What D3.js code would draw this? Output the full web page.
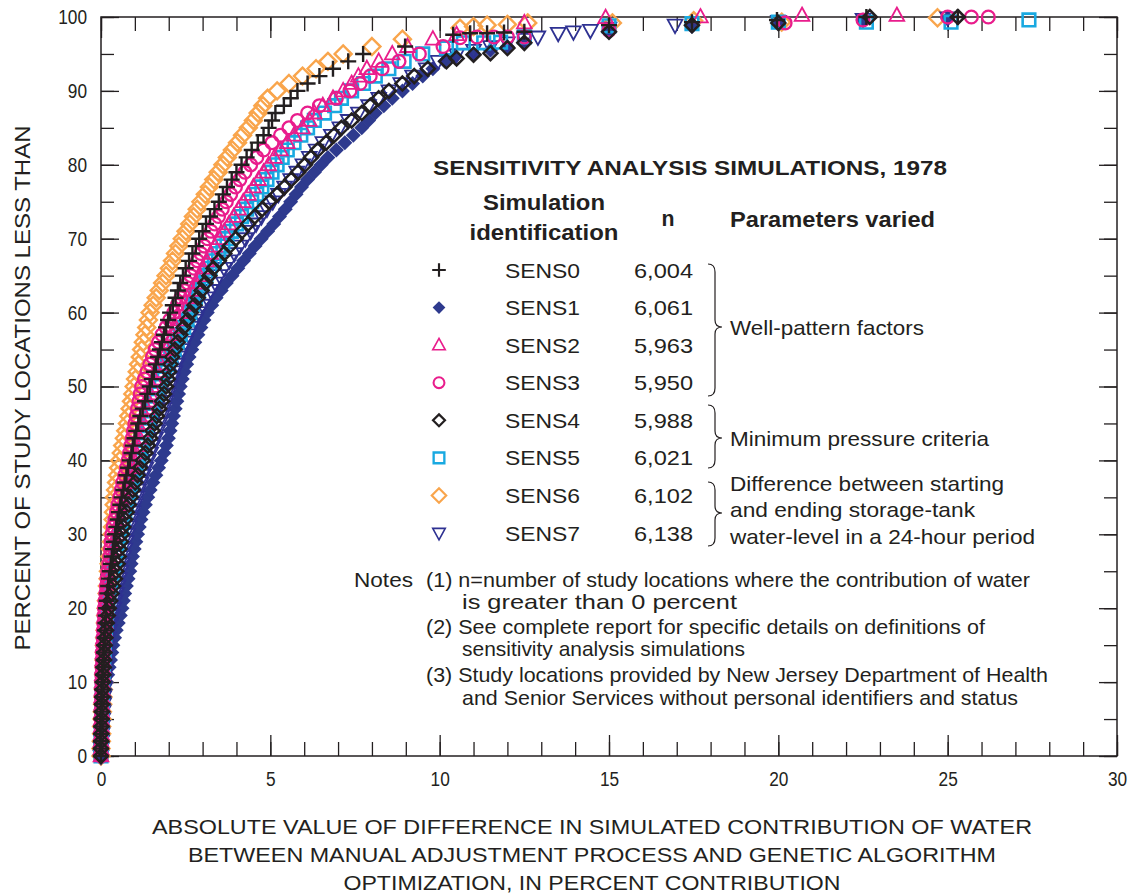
<!DOCTYPE html>
<html><head><meta charset="utf-8">
<script src="https://cdn.jsdelivr.net/npm/d3@7"></script>
<style>
body{margin:0;background:#fff}
svg{display:block}
text{font-family:"Liberation Sans",Arial,Helvetica,sans-serif;fill:#231f20}
</style>
</head><body><svg id="c" width="1131" height="895"></svg>
<script>
// ---------- DATA ----------
// Dense part: x value (absolute difference, %) at each cumulative percent 0,1,2,...
const sens0X = [0,0,0,0.01,0.01,0.02,0.02,0.03,0.04,0.04,
0.05,0.06,0.07,0.08,0.09,0.1,0.11,0.12,0.13,0.14,
0.15,0.17,0.19,0.21,0.24,0.26,0.29,0.32,0.35,0.38,
0.42,0.45,0.49,0.53,0.57,0.61,0.66,0.7,0.75,0.8,
0.85,0.9,0.94,0.99,1.04,1.1,1.16,1.23,1.3,1.37,
1.44,1.5,1.56,1.62,1.68,1.74,1.8,1.86,1.92,1.98,
2.04,2.12,2.2,2.27,2.34,2.42,2.5,2.6,2.7,2.8,
2.9,3.0,3.1,3.22,3.35,3.48,3.6,3.72,3.86,4.0,
4.15,4.3,4.45,4.63,4.8,4.95,5.05,5.15,5.4,5.6,
5.8,6.1,6.45,6.85,7.3,7.74,8.98];
const sens1X = [0,0.01,0.02,0.03,0.04,0.05,0.07,0.09,0.11,0.13,
0.16,0.2,0.24,0.28,0.32,0.35,0.4,0.45,0.51,0.57,
0.62,0.66,0.7,0.75,0.8,0.85,0.89,0.93,0.98,1.03,
1.08,1.13,1.18,1.24,1.31,1.38,1.45,1.53,1.62,1.7,
1.78,1.86,1.93,1.99,2.04,2.09,2.14,2.19,2.24,2.29,
2.34,2.4,2.46,2.53,2.6,2.68,2.77,2.86,2.95,3.04,
3.14,3.27,3.4,3.55,3.7,3.87,4.04,4.21,4.38,4.55,
4.73,4.92,5.1,5.27,5.44,5.6,5.76,5.92,6.1,6.3,
6.5,6.7,6.95,7.2,7.45,7.7,7.9,8.1,8.35,8.6,
8.9,9.2,9.5,9.8,10.15];
const sens2X = [0,0,0,0.01,0.01,0.01,0.02,0.02,0.02,0.03,
0.03,0.04,0.05,0.05,0.06,0.07,0.08,0.1,0.12,0.13,
0.15,0.18,0.21,0.24,0.27,0.3,0.33,0.37,0.41,0.44,
0.48,0.52,0.57,0.62,0.67,0.72,0.77,0.82,0.87,0.93,
0.98,1.03,1.08,1.14,1.19,1.25,1.3,1.35,1.4,1.45,
1.5,1.58,1.67,1.76,1.85,1.94,2.03,2.12,2.2,2.27,
2.34,2.42,2.54,2.67,2.8,2.91,3.01,3.12,3.24,3.36,
3.5,3.64,3.78,3.92,4.06,4.2,4.35,4.5,4.65,4.8,
4.95,5.12,5.3,5.5,5.7,5.95,6.15,6.3,6.55,6.85,
7.15,7.4,7.6,7.85,8.2,8.6,9.05,9.8];
const sens3X = [0,0,0,0,0,0,0.01,0.01,0.01,0.02,
0.02,0.02,0.03,0.04,0.04,0.05,0.06,0.07,0.08,0.09,
0.1,0.12,0.14,0.16,0.18,0.2,0.23,0.26,0.28,0.3,
0.32,0.36,0.41,0.46,0.5,0.55,0.6,0.64,0.7,0.75,
0.8,0.84,0.88,0.92,0.96,1.0,1.04,1.08,1.12,1.16,
1.2,1.28,1.36,1.44,1.52,1.6,1.7,1.8,1.92,2.03,
2.15,2.25,2.36,2.46,2.56,2.65,2.75,2.85,2.95,3.05,
3.15,3.25,3.36,3.47,3.58,3.7,3.83,3.97,4.1,4.25,
4.42,4.6,4.8,5.05,5.3,5.55,5.8,6.1,6.45,6.95,
7.35,7.65,7.95,8.3,8.8,9.4,10.1];
const sens4X = [0,0,0.01,0.01,0.02,0.02,0.03,0.03,0.04,0.05,
0.06,0.07,0.08,0.09,0.1,0.11,0.13,0.15,0.17,0.2,
0.23,0.27,0.31,0.36,0.41,0.45,0.49,0.52,0.55,0.59,
0.62,0.66,0.71,0.76,0.82,0.88,0.94,1.01,1.08,1.15,
1.23,1.31,1.38,1.45,1.52,1.58,1.65,1.72,1.8,1.86,
1.92,1.97,2.01,2.05,2.1,2.18,2.26,2.34,2.44,2.55,
2.65,2.76,2.86,2.97,3.08,3.2,3.32,3.48,3.64,3.8,
3.98,4.16,4.34,4.54,4.76,4.97,5.2,5.42,5.62,5.82,
6.02,6.2,6.4,6.65,6.88,7.1,7.4,7.7,7.95,8.2,
8.5,8.9,9.25,9.65,10.2];
const sens5X = [0,0,0.01,0.01,0.02,0.02,0.03,0.03,0.04,0.04,
0.05,0.06,0.07,0.08,0.09,0.1,0.11,0.13,0.15,0.16,
0.18,0.21,0.24,0.28,0.31,0.35,0.39,0.43,0.47,0.51,
0.55,0.6,0.65,0.7,0.75,0.8,0.86,0.92,0.98,1.04,
1.1,1.16,1.22,1.28,1.34,1.4,1.46,1.52,1.58,1.64,
1.7,1.78,1.87,1.96,2.06,2.16,2.25,2.34,2.44,2.54,
2.62,2.7,2.79,2.88,2.98,3.1,3.22,3.35,3.47,3.6,
3.72,3.85,4.0,4.15,4.3,4.45,4.6,4.75,4.9,5.05,
5.2,5.35,5.5,5.7,5.9,6.1,6.3,6.6,6.9,7.1,
7.4,7.75,8.1,8.5,8.95,9.5];
const sens6X = [0,0,0.01,0.02,0.02,0.03,0.04,0.05,0.06,0.07,
0.08,0.08,0.09,0.09,0.1,0.1,0.11,0.12,0.13,0.14,
0.15,0.16,0.18,0.19,0.21,0.22,0.24,0.26,0.28,0.31,
0.33,0.34,0.36,0.37,0.39,0.4,0.43,0.46,0.49,0.52,
0.55,0.6,0.64,0.69,0.73,0.78,0.82,0.86,0.9,0.94,
0.98,1.02,1.07,1.11,1.16,1.2,1.25,1.3,1.35,1.4,
1.45,1.54,1.63,1.72,1.82,1.92,2.02,2.11,2.2,2.3,
2.4,2.51,2.62,2.73,2.84,2.95,3.08,3.2,3.33,3.46,
3.6,3.73,3.88,4.03,4.18,4.35,4.5,4.64,4.78,4.92,
5.2,5.55,5.95,6.35,6.7,7.15,8.0,8.9];
const sens7X = [0,0.01,0.02,0.03,0.04,0.05,0.06,0.07,0.08,0.09,
0.1,0.12,0.14,0.16,0.18,0.2,0.23,0.26,0.3,0.34,
0.38,0.42,0.46,0.5,0.54,0.58,0.62,0.66,0.7,0.74,
0.78,0.83,0.88,0.94,1.0,1.06,1.12,1.19,1.26,1.33,
1.4,1.47,1.54,1.61,1.68,1.74,1.8,1.86,1.92,1.98,
2.04,2.11,2.18,2.25,2.32,2.4,2.49,2.58,2.68,2.78,
2.88,3.0,3.12,3.24,3.37,3.5,3.64,3.79,3.94,4.1,
4.26,4.42,4.58,4.74,4.9,5.07,5.24,5.42,5.6,5.78,
5.96,6.15,6.35,6.55,6.8,7.05,7.3,7.6,7.9,8.2,
8.5,8.85,9.2,9.6,9.95];

// Sparse upper tails: [x, percent]
const sens0Tail = [[10.4,97.6],[10.9,97.8],[11.4,97.8],[11.9,97.9],[12.5,98.0],[15.0,98.9],[17.45,99.3],[19.96,99.6],[22.6,100],[25.3,100]];
const sens1Tail = [[10.45,94.6],[11.0,95.0],[11.5,95.5],[12.0,96.0],[12.5,96.5],[15.0,98.0],[17.45,98.7],[20.0,99.2],[22.5,99.6],[25.0,99.8]];
const sens2Tail = [[10.5,97.6],[12.5,99.2],[14.9,99.9],[17.7,100],[20.7,100.2],[23.5,100.2]];
const sens3Tail = [[10.6,97.2],[11.1,97.3],[11.6,97.3],[12.0,97.3],[12.5,97.3],[15.0,98.2],[20.2,99.2],[22.5,99.6],[25.0,100],[25.7,100],[26.2,100]];
const sens4Tail = [[10.5,94.4],[11.0,94.9],[11.5,95.1],[12.0,95.8],[12.5,96.5],[15.0,98.0],[17.45,98.9],[20.0,99.2],[22.7,100],[25.3,100]];
const sens5Tail = [[10.2,95.8],[10.7,96.5],[11.3,96.5],[11.8,96.6],[12.5,97.3],[15.0,98.8],[17.45,99.1],[20.0,99.3],[22.6,99.3],[25.1,99.3],[27.4,99.6]];
const sens6Tail = [[10.6,98.5],[11.0,98.7],[11.4,98.9],[12.0,99.0],[12.6,99.2],[15.1,99.2],[17.5,99.5],[20.1,99.3],[24.7,99.9]];
const sens7Tail = [[10.5,94.9],[11.0,95.5],[11.5,96.0],[12.0,96.5],[12.5,97.0],[12.9,97.3],[13.5,97.8],[13.95,98.0],[14.45,98.2],[15.0,98.5],[16.95,98.9],[20.0,99.4],[22.5,99.7],[25.0,99.9]];

const simIds = ["SENS0","SENS1","SENS2","SENS3","SENS4","SENS5","SENS6","SENS7"];
const nValues = ["6,004","6,061","5,963","5,950","5,988","6,021","6,102","6,138"];
const xTickLabels = [0,5,10,15,20,25,30];
const yTickLabels = [0,10,20,30,40,50,60,70,80,90,100];
const groupLabels = [["Well-pattern factors"],["Minimum pressure criteria"],
  ["Difference between starting","and ending storage-tank","water-level in a 24-hour period"]];
const noteLines = ["(1) n=number of study locations where the contribution of water","is greater than 0 percent",
  "(2) See complete report for specific details on definitions of","sensitivity analysis simulations",
  "(3) Study locations provided by New Jersey Department of Health","and Senior Services without personal identifiers and status"];

// ---------- SETUP ----------
const svg = d3.select("#c");
const INK = "#231f20";
const x = d3.scaleLinear([0,30],[101,1117]);
const y = d3.scaleLinear([0,100],[756,17]);

const styles = {
  SENS0:{shape:"plus",   r:8,   stroke:INK,      fill:"none",    sw:2.4},
  SENS1:{shape:"diamond",r:7.5, stroke:"none",   fill:"#2e3a8e", sw:0},
  SENS2:{shape:"triUp",  r:8,   stroke:"#e91d8c",fill:"none",    sw:1.8},
  SENS3:{shape:"circle", r:6.4, stroke:"#e91d8c",fill:"none",    sw:2.3},
  SENS4:{shape:"diamond",r:7,   stroke:INK,      fill:"none",    sw:2.5},
  SENS5:{shape:"square", r:6.3, stroke:"#19a9e1",fill:"none",    sw:2.6},
  SENS6:{shape:"diamond",r:8.5, stroke:"#f9a54c",fill:"none",    sw:2.4},
  SENS7:{shape:"triDown",r:8,   stroke:"#2e3192",fill:"none",    sw:1.8}
};
function shapePath(s, r){
  switch(s){
    case "plus": return `M${-r},0H${r}M0,${-r}V${r}`;
    case "diamond": return `M0,${-r}L${r},0L0,${r}L${-r},0Z`;
    case "square": return `M${-r},${-r}H${r}V${r}H${-r}Z`;
    case "triUp": return `M0,${-r}L${r*0.92},${r*0.68}L${-r*0.92},${r*0.68}Z`;
    case "triDown": return `M0,${r}L${r*0.92},${-r*0.68}L${-r*0.92},${-r*0.68}Z`;
    case "circle": { const p=d3.path(); p.arc(0,0,r,0,Math.PI*2); p.closePath(); return p.toString(); }
  }
}

const seriesData = {
  SENS0: sens0X.map((v,i)=>[v,i]).concat(sens0Tail),
  SENS1: sens1X.map((v,i)=>[v,i]).concat(sens1Tail),
  SENS2: sens2X.map((v,i)=>[v,i]).concat(sens2Tail),
  SENS3: sens3X.map((v,i)=>[v,i]).concat(sens3Tail),
  SENS4: sens4X.map((v,i)=>[v,i]).concat(sens4Tail),
  SENS5: sens5X.map((v,i)=>[v,i]).concat(sens5Tail),
  SENS6: sens6X.map((v,i)=>[v,i]).concat(sens6Tail),
  SENS7: sens7X.map((v,i)=>[v,i]).concat(sens7Tail)
};

// ---------- AXES ----------
function styleAxis(g){
  g.select(".domain").remove();
  g.selectAll(".tick line").attr("stroke",INK).attr("stroke-width",1.3);
  g.selectAll(".tick text").attr("fill",INK).style("font-size","20px")
    .style("font-family",'"Liberation Sans",Arial,sans-serif');
}
const axes = svg.append("g").attr("color",INK);
axes.append("g").attr("transform",`translate(0,${y(0)})`)
  .call(d3.axisBottom(x).ticks(30).tickSize(-14).tickFormat("")).call(styleAxis);
axes.append("g").attr("transform",`translate(0,${y(0)})`)
  .call(d3.axisBottom(x).tickValues(xTickLabels).tickSize(-21).tickPadding(16).tickFormat(d3.format("d"))).call(styleAxis);
axes.append("g").attr("transform",`translate(0,${y(100)})`)
  .call(d3.axisTop(x).ticks(30).tickSize(-14).tickFormat("")).call(styleAxis);
axes.append("g").attr("transform",`translate(0,${y(100)})`)
  .call(d3.axisTop(x).tickValues(xTickLabels).tickSize(-21).tickFormat("")).call(styleAxis);
axes.append("g").attr("transform",`translate(${x(0)},0)`)
  .call(d3.axisLeft(y).ticks(20).tickSize(-13).tickFormat("")).call(styleAxis);
axes.append("g").attr("transform",`translate(${x(0)},0)`)
  .call(d3.axisLeft(y).tickValues(yTickLabels).tickSize(-18).tickPadding(14).tickFormat(d3.format("d"))).call(styleAxis);
axes.append("g").attr("transform",`translate(${x(30)},0)`)
  .call(d3.axisRight(y).ticks(20).tickSize(-13).tickFormat("")).call(styleAxis);
axes.append("g").attr("transform",`translate(${x(30)},0)`)
  .call(d3.axisRight(y).tickValues(yTickLabels).tickSize(-18).tickFormat("")).call(styleAxis);
// condensed look for tick labels
axes.selectAll(".tick text").each(function(){
  const t = d3.select(this);
  const n = t.text().length;
  if(n) t.attr("textLength", n*9.6).attr("lengthAdjust","spacingAndGlyphs");
});
axes.append("rect").attr("x",x(0)).attr("y",y(100)).attr("width",x(30)-x(0)).attr("height",y(0)-y(100))
  .attr("fill","none").attr("stroke",INK).attr("stroke-width",1.5);

// ---------- MARKERS ----------
const drawOrder = ["SENS6","SENS1","SENS7","SENS5","SENS2","SENS3","SENS4","SENS0"];
const plot = svg.append("g");
drawOrder.forEach(id=>{
  const st = styles[id];
  plot.append("g").selectAll("path").data(seriesData[id]).join("path")
    .attr("transform",d=>`translate(${x(d[0])},${y(d[1])})`)
    .attr("d",shapePath(st.shape,st.r))
    .attr("fill",st.fill).attr("stroke",st.stroke).attr("stroke-width",st.sw);
});

// ---------- TEXT HELPERS ----------
function label(parent, s, px, py, o={}){
  const t = parent.append("text").attr("x",px).attr("y",py).text(s)
    .attr("dominant-baseline","central")
    .style("font-size",(o.size||21)+"px")
    .style("font-weight",o.bold?"bold":"normal")
    .attr("text-anchor",o.anchor||"start");
  if(o.width){ t.attr("textLength",o.width).attr("lengthAdjust","spacingAndGlyphs"); }
  return t;
}

// Axis titles
const xTitle = ["ABSOLUTE VALUE OF DIFFERENCE IN SIMULATED CONTRIBUTION OF WATER",
  "BETWEEN MANUAL ADJUSTMENT PROCESS AND GENETIC ALGORITHM",
  "OPTIMIZATION, IN PERCENT CONTRIBUTION"];
const xTitleW = [880,808,497];
xTitle.forEach((s,i)=>label(svg,s,592,826+i*28,{size:21,anchor:"middle",width:xTitleW[i]}));
const yt = svg.append("g").attr("transform","translate(22,388) rotate(-90)");
label(yt,"PERCENT OF STUDY LOCATIONS LESS THAN",0,0,{size:22,anchor:"middle",width:525});

// ---------- LEGEND ----------
const lg = svg.append("g");
label(lg,"SENSITIVITY ANALYSIS SIMULATIONS, 1978",433,168,{size:20,bold:true,width:514});
label(lg,"Simulation",544,202,{size:22,bold:true,anchor:"middle",width:122});
label(lg,"identification",544,232,{size:22,bold:true,anchor:"middle",width:149});
label(lg,"n",668,218,{size:22,bold:true,anchor:"middle",width:13});
label(lg,"Parameters varied",730,219,{size:22,bold:true,width:205});

const rowY = d3.scaleLinear([0,7],[270,533]);
simIds.forEach((id,i)=>{
  const st = styles[id];
  lg.append("path").attr("transform",`translate(439,${rowY(i)})`)
    .attr("d",shapePath(st.shape,st.r*0.85)).attr("fill",st.fill).attr("stroke",st.stroke).attr("stroke-width",st.sw*0.9);
  label(lg,id,505,rowY(i),{size:21,width:75});
  label(lg,nValues[i],634,rowY(i),{size:21,width:59});
});

// braces
function brace(y0,y1,ym){
  const xa=708, xb=715, xt=722;
  return `M${xa},${y0}Q${xb},${y0} ${xb},${y0+8}L${xb},${ym-7}Q${xb},${ym} ${xt},${ym}`+
         `Q${xb},${ym} ${xb},${ym+7}L${xb},${y1-8}Q${xb},${y1} ${xa},${y1}`;
}
const braceSpans = [[264,396,327],[405,468,438],[482,546,513]];
braceSpans.forEach(b=>lg.append("path").attr("d",brace(...b)).attr("fill","none").attr("stroke",INK).attr("stroke-width",1.2));
const groupY = [[327],[438],[483,509.5,536]];
const groupW = [[194],[259],[274,245,305]];
groupLabels.forEach((lines,gi)=>lines.forEach((s,li)=>label(lg,s,730,groupY[gi][li],{size:21,width:groupW[gi][li]})));

// notes
label(lg,"Notes",354,579,{size:21,width:59});
const noteX = [426,462,426,462,426,462];
const noteY = [579,601,626,648,674,697];
const noteW = [604,275,559,283,622,556];
noteLines.forEach((s,i)=>label(lg,s,noteX[i],noteY[i],{size:21,width:noteW[i]}));
</script></body></html>
